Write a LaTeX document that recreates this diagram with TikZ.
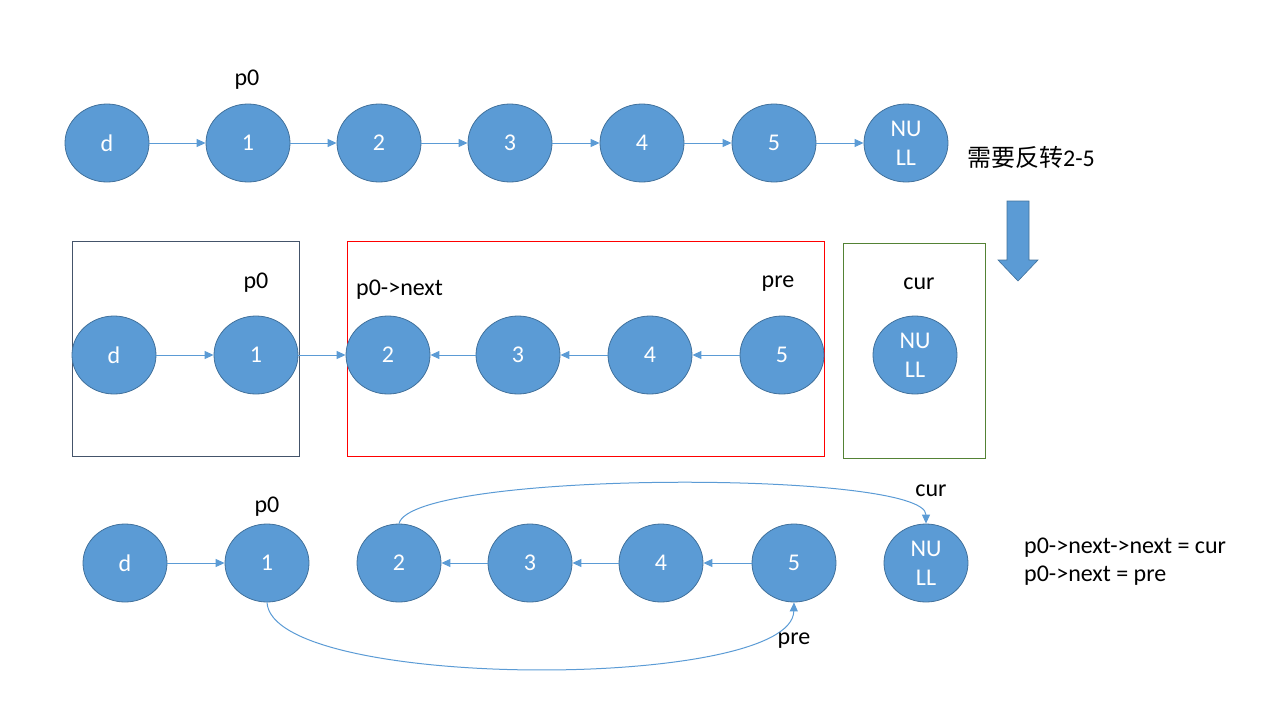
\documentclass[tikz,border=0pt]{standalone}
\usepackage{fontspec}
\setmainfont{Carlito}
\newfontfamily\cjk{Noto Sans CJK SC}
\usetikzlibrary{arrows.meta,shapes.geometric}
\definecolor{nodefill}{HTML}{5B9BD5}
\definecolor{nodeedge}{HTML}{41719C}
\definecolor{boxdark}{HTML}{44546A}
\definecolor{boxgreen}{HTML}{548235}
\begin{document}
\begin{tikzpicture}[x=1pt,y=-1pt,
  font=\fontsize{24}{29}\selectfont,
  lnode/.style={ellipse, draw=nodeedge, fill=nodefill, line width=0.8pt,
    minimum width=84pt, minimum height=78pt, inner sep=0pt,
    label={[text=white, align=center, inner sep=0pt]center:#1}},
  link/.style={draw=nodefill, line width=1pt, -{Triangle[length=9pt,width=8pt]}},
  lbl/.style={text=black, inner sep=0pt, yshift=-2.5pt},
  frame/.style={line width=0.9pt}
]
\useasboundingbox (0,0) rectangle (1280,720);

% ---------- row 1 ----------
\node[lnode={d}] (a0) at (107,143) {};
\node[lnode={1}] (a1) at (248,143) {};
\node[lnode={2}] (a2) at (379,143) {};
\node[lnode={3}] (a3) at (510,143) {};
\node[lnode={4}] (a4) at (642,143) {};
\node[lnode={5}] (a5) at (774,143) {};
\node[lnode={NU\\LL}] (a6) at (906,143) {};
\draw[link] (a0) -- (a1);
\draw[link] (a1) -- (a2);
\draw[link] (a2) -- (a3);
\draw[link] (a3) -- (a4);
\draw[link] (a4) -- (a5);
\draw[link] (a5) -- (a6);
\node[lbl] (ap0) at (247,77) {p0};
\node[lbl, anchor=west] (title) at (967,155) {{\cjk 需要反转}2-5};

% big down arrow
\draw[fill=nodefill, draw=nodeedge, line width=0.6pt]
  (1007,201) -- (1029,201) -- (1029,260) -- (1038,260) -- (1018,281)
  -- (998,260) -- (1007,260) -- cycle;

% ---------- row 2 ----------
\draw[frame, draw=boxdark] (72,241) rectangle (299,456);
\draw[frame, draw=red] (347,241) rectangle (824,456);
\draw[frame, draw=boxgreen] (843,243) rectangle (985,458);
\node[lnode={d}] (b0) at (114,355) {};
\node[lnode={1}] (b1) at (256,355) {};
\node[lnode={2}] (b2) at (388,355) {};
\node[lnode={3}] (b3) at (518,355) {};
\node[lnode={4}] (b4) at (650,355) {};
\node[lnode={5}] (b5) at (782,355) {};
\node[lnode={NU\\LL}] (b6) at (915,355) {};
\draw[link] (b0) -- (b1);
\draw[link] (b1) -- (b2);
\draw[link] (b3) -- (b2);
\draw[link] (b4) -- (b3);
\draw[link] (b5) -- (b4);
\node[lbl] (bp0) at (256,280) {p0};
\node[lbl, anchor=west] (bnext) at (356,287) {p0->next};
\node[lbl] (bpre) at (778,281) {pre};
\node[lbl] (bcur) at (919,281) {cur};

% ---------- row 3 ----------
\node[lnode={d}] (c0) at (125,563) {};
\node[lnode={1}] (c1) at (267,563) {};
\node[lnode={2}] (c2) at (399,563) {};
\node[lnode={3}] (c3) at (530,563) {};
\node[lnode={4}] (c4) at (661,563) {};
\node[lnode={5}] (c5) at (794,563) {};
\node[lnode={NU\\LL}] (c6) at (926,563) {};
\draw[link] (c0) -- (c1);
\draw[link] (c3) -- (c2);
\draw[link] (c4) -- (c3);
\draw[link] (c5) -- (c4);
\draw[link] (c2.north) .. controls (412,470) and (926,470) .. (c6.north);
\draw[link] (c1.south) .. controls (272,691) and (792,691) .. (c5.south);
\node[lbl] (cp0) at (267,504) {p0};
\node[lbl] (ccur) at (931,488) {cur};
\node[lbl] (cpre) at (794,638) {pre};
\node[lbl, anchor=west] (code1) at (1024,545) {p0->next->next = cur};
\node[lbl, anchor=west] (code2) at (1024,573) {p0->next = pre};
\end{tikzpicture}
\end{document}
